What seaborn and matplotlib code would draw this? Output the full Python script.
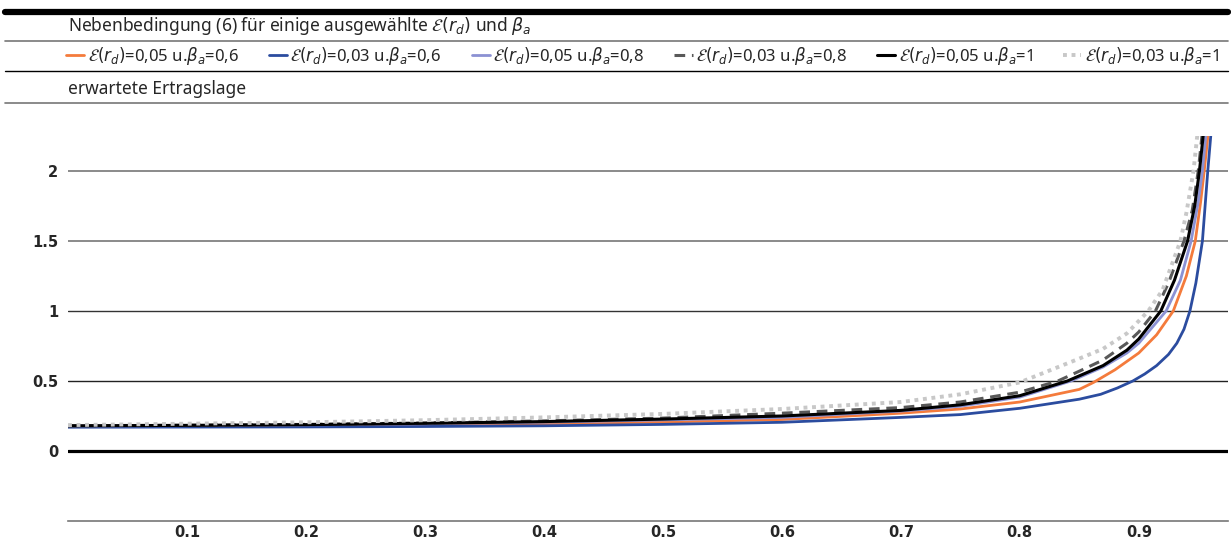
import numpy as np
import pandas as pd
import seaborn as sns
import matplotlib.pyplot as plt
from matplotlib.lines import Line2D

# values (x = fraction, y = erwartete Ertragslage)
x_orange = [0, .1, .2, .3, .4, .5, .6, .7, .75, .8, .85, .862, .88, .9, .915, .929, .94, .9475, .952, .955, .96]
y_orange = [.176, .178, .181, .187, .195, .207, .225, .27, .30, .35, .44, .49, .58, .70, .83, 1.0, 1.25, 1.5, 1.78, 2.0, 2.4]

x_blue = [0, .1, .2, .3, .4, .5, .6, .7, .75, .8, .85, .868, .882, .895, .905, .915, .925, .932, .938, .943, .948, .9535, .958, .962]
y_blue = [.17, .171, .172, .175, .18, .19, .205, .24, .26, .305, .37, .405, .45, .50, .55, .61, .69, .77, .87, 1.0, 1.2, 1.5, 2.0, 2.4]

x_lav = [0, .1, .2, .3, .4, .5, .6, .7, .75, .8, .843, .87, .89, .9, .923, .935, .944, .95, .9535, .958]
y_lav = [.178, .181, .186, .195, .206, .222, .24, .285, .32, .385, .50, .60, .70, .77, 1.0, 1.22, 1.5, 1.78, 2.0, 2.4]

x_dash = [0, .1, .2, .3, .4, .5, .6, .7, .75, .8, .832, .85, .87, .89, .9, .914, .925, .938, .945, .95, .955]
y_dash = [.18, .185, .19, .20, .215, .235, .27, .31, .35, .42, .50, .57, .65, .77, .85, 1.0, 1.2, 1.5, 1.72, 2.0, 2.4]

x_black = [0, .1, .2, .3, .4, .5, .6, .7, .75, .8, .84, .87, .89, .9, .9185, .93, .941, .947, .951, .956]
y_black = [.18, .183, .188, .198, .21, .228, .25, .29, .33, .395, .50, .61, .72, .80, 1.0, 1.22, 1.5, 1.75, 2.0, 2.4]

x_dot = [0, .1, .2, .3, .4, .5, .6, .7, .75, .8, .85, .87, .89, .908, .92, .935, .94, .946, .951]
y_dot = [.185, .195, .205, .22, .24, .265, .30, .35, .405, .49, .66, .73, .84, 1.0, 1.15, 1.5, 1.7, 2.0, 2.4]

labels = [
    r"$\mathcal{E}(r_d)$=0,05 u.$\beta_a$=0,6",
    r"$\mathcal{E}(r_d)$=0,03 u.$\beta_a$=0,6",
    r"$\mathcal{E}(r_d)$=0,05 u.$\beta_a$=0,8",
    r"$\mathcal{E}(r_d)$=0,03 u.$\beta_a$=0,8",
    r"$\mathcal{E}(r_d)$=0,05 u.$\beta_a$=1",
    r"$\mathcal{E}(r_d)$=0,03 u.$\beta_a$=1",
]
xticks = [0.1, 0.2, 0.3, 0.4, 0.5, 0.6, 0.7, 0.8, 0.9]
yticks = [0, 0.5, 1, 1.5, 2]
ytick_labels = ["0", "0.5", "1", "1.5", "2"]

sns.set_style("white")
plt.rcParams["font.family"] = ["Noto Sans", "DejaVu Sans"]

W, H = 1231, 545
fig = plt.figure(figsize=(W / 100, H / 100), dpi=100)
ax = fig.add_axes([68 / W, 1 - 521 / H, (1228 - 68) / W, (521 - 136) / H])

series = [
    (x_orange, y_orange, "#f47b3c", "-", 2.0),
    (x_blue, y_blue, "#2b4c9f", "-", 2.0),
    (x_lav, y_lav, "#8b91d3", "-", 2.0),
    (x_dash, y_dash, "#595959", (0, (3.5, 2.2)), 2.2),
    (x_black, y_black, "black", "-", 2.2),
    (x_dot, y_dot, "#c8c8c8", (0, (1, 1.2)), 2.8),
]

handles = []
for (xs, ys, col, ls, lw), lab in zip(series, labels):
    df = pd.DataFrame({"x": xs, "y": ys})
    sns.lineplot(data=df, x="x", y="y", ax=ax, color=col, linestyle=ls,
                 linewidth=lw, zorder=3)
    handles.append(Line2D([0], [0], color=col, linestyle=ls, linewidth=lw))

ax.set_xlim(0, 0.975)
ax.set_ylim(-0.5, 2.25)
ax.set_xlabel("")
ax.set_ylabel("")

bold = dict(family="DejaVu Sans", fontsize=10.5, fontweight="bold")
ax.set_xticks(xticks)
ax.set_xticklabels([f"{t:.1f}" for t in xticks], **bold)
ax.set_yticks(yticks)
ax.set_yticklabels(ytick_labels, **bold)
ax.tick_params(axis="x", direction="in", length=5, width=1, color="#555555", pad=3)
ax.tick_params(axis="y", length=0, pad=7)

ax.grid(axis="y")
grid_cols = ["black", "#222222", "#333333", "#777777", "#777777"]
grid_lws = [2.3, 1.0, 1.0, 1.2, 1.2]
for gl, c, w in zip(ax.get_ygridlines(), grid_cols, grid_lws):
    gl.set_color(c)
    gl.set_linewidth(w)
    gl.set_zorder(1)

for s in ["top", "right", "left"]:
    ax.spines[s].set_visible(False)
ax.spines["bottom"].set_color("#777777")
ax.spines["bottom"].set_linewidth(1.2)


# header rules and texts
def hline(ypx, col, lw, x0=5):
    fig.add_artist(Line2D([x0 / W, 1228 / W], [1 - ypx / H, 1 - ypx / H],
                          transform=fig.transFigure, color=col, linewidth=lw))


hline(12, "black", 4.5)
hline(41, "#777777", 1.2)
hline(71, "black", 1.0)
hline(103, "#777777", 1.2)

fig.text(68 / W, 1 - 26 / H, r"Nebenbedingung (6) für einige ausgewählte $\mathcal{E}(r_d)$ und $\beta_a$",
         fontsize=12.5, va="center", ha="left")
fig.text(68 / W, 1 - 89 / H, "erwartete Ertragslage", fontsize=12.5, va="center", ha="left")

fig.legend(handles, labels, loc="center left", bbox_to_anchor=(66 / W, 1 - 56 / H),
           ncol=6, frameon=False, fontsize=12, handlelength=1.1, handletextpad=0.2,
           columnspacing=1.8, borderaxespad=0, borderpad=0)

fig.savefig("out.png", dpi=100)
